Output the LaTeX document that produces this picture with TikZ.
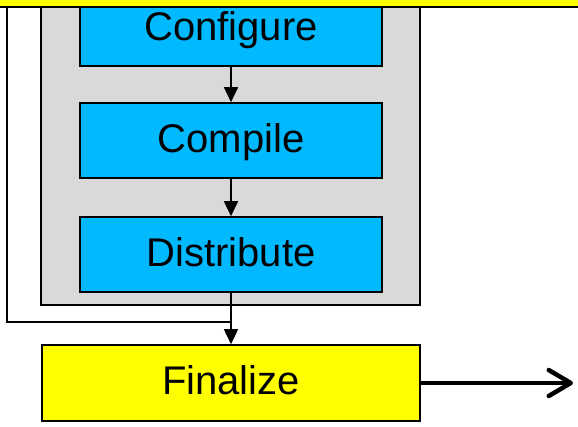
\documentclass[tikz,border=0pt]{standalone}
\usepackage{fontspec}
\setmainfont{Liberation Sans}
\usetikzlibrary{arrows.meta,positioning,calc}
\definecolor{stepblue}{HTML}{00B9FF}
\definecolor{groupgray}{HTML}{D9D9D9}
\definecolor{phaseyellow}{HTML}{FFFF00}
\tikzset{
  box/.style={draw=black,line width=1.6pt,rectangle,inner sep=0pt,
    font=\fontsize{40}{42}\selectfont,text height=28.6pt,text depth=5.4pt},
  stepbox/.style={box,fill=stepblue,minimum width=302pt,minimum height=75pt},
  phasebox/.style={box,fill=phaseyellow,minimum width=378pt,minimum height=76pt},
  flow/.style={draw=black,line width=1.6pt,-{Triangle[length=15pt,width=14pt]}},
  loopline/.style={draw=black,line width=2.4pt},
  exitarrow/.style={draw=black,line width=4pt,
    -{Straight Barb[length=22pt,width=26pt,line width=4.5pt,round]}}
}
\begin{document}
\begin{tikzpicture}[x=1pt,y=-1pt]
  \useasboundingbox (0,0) rectangle (578,426);
  \clip (0,0) rectangle (578,426);
  % build group
  \node[box,fill=groupgray,minimum width=379pt,minimum height=345pt] (group) at (230.5,132.5) {};
  % build steps
  \node[stepbox] (configure) at (231,28.5) {Configure};
  \node[stepbox] (compile) at (231,140.5) {Compile};
  \node[stepbox] (distribute) at (231,254.5) {Distribute};
  % phase above the build group, laid over its top edge
  \node[box,fill=phaseyellow,minimum width=600pt,minimum height=60pt] (prepare) at (289,-23) {};
  % final phase
  \node[phasebox] (finalize) at (231,383) {Finalize};
  \coordinate (bypass) at (7,0);
  \coordinate (join) at (231,322);
  \coordinate (exit) at (573,383);
  % connectors
  \draw[flow] (configure) -- (compile);
  \draw[flow] (compile) -- (distribute);
  \draw[flow] (distribute) -- (finalize);
  \draw[loopline] (prepare.south -| bypass) |- (join);
  \draw[exitarrow] (finalize) -- (exit);
\end{tikzpicture}
\end{document}
